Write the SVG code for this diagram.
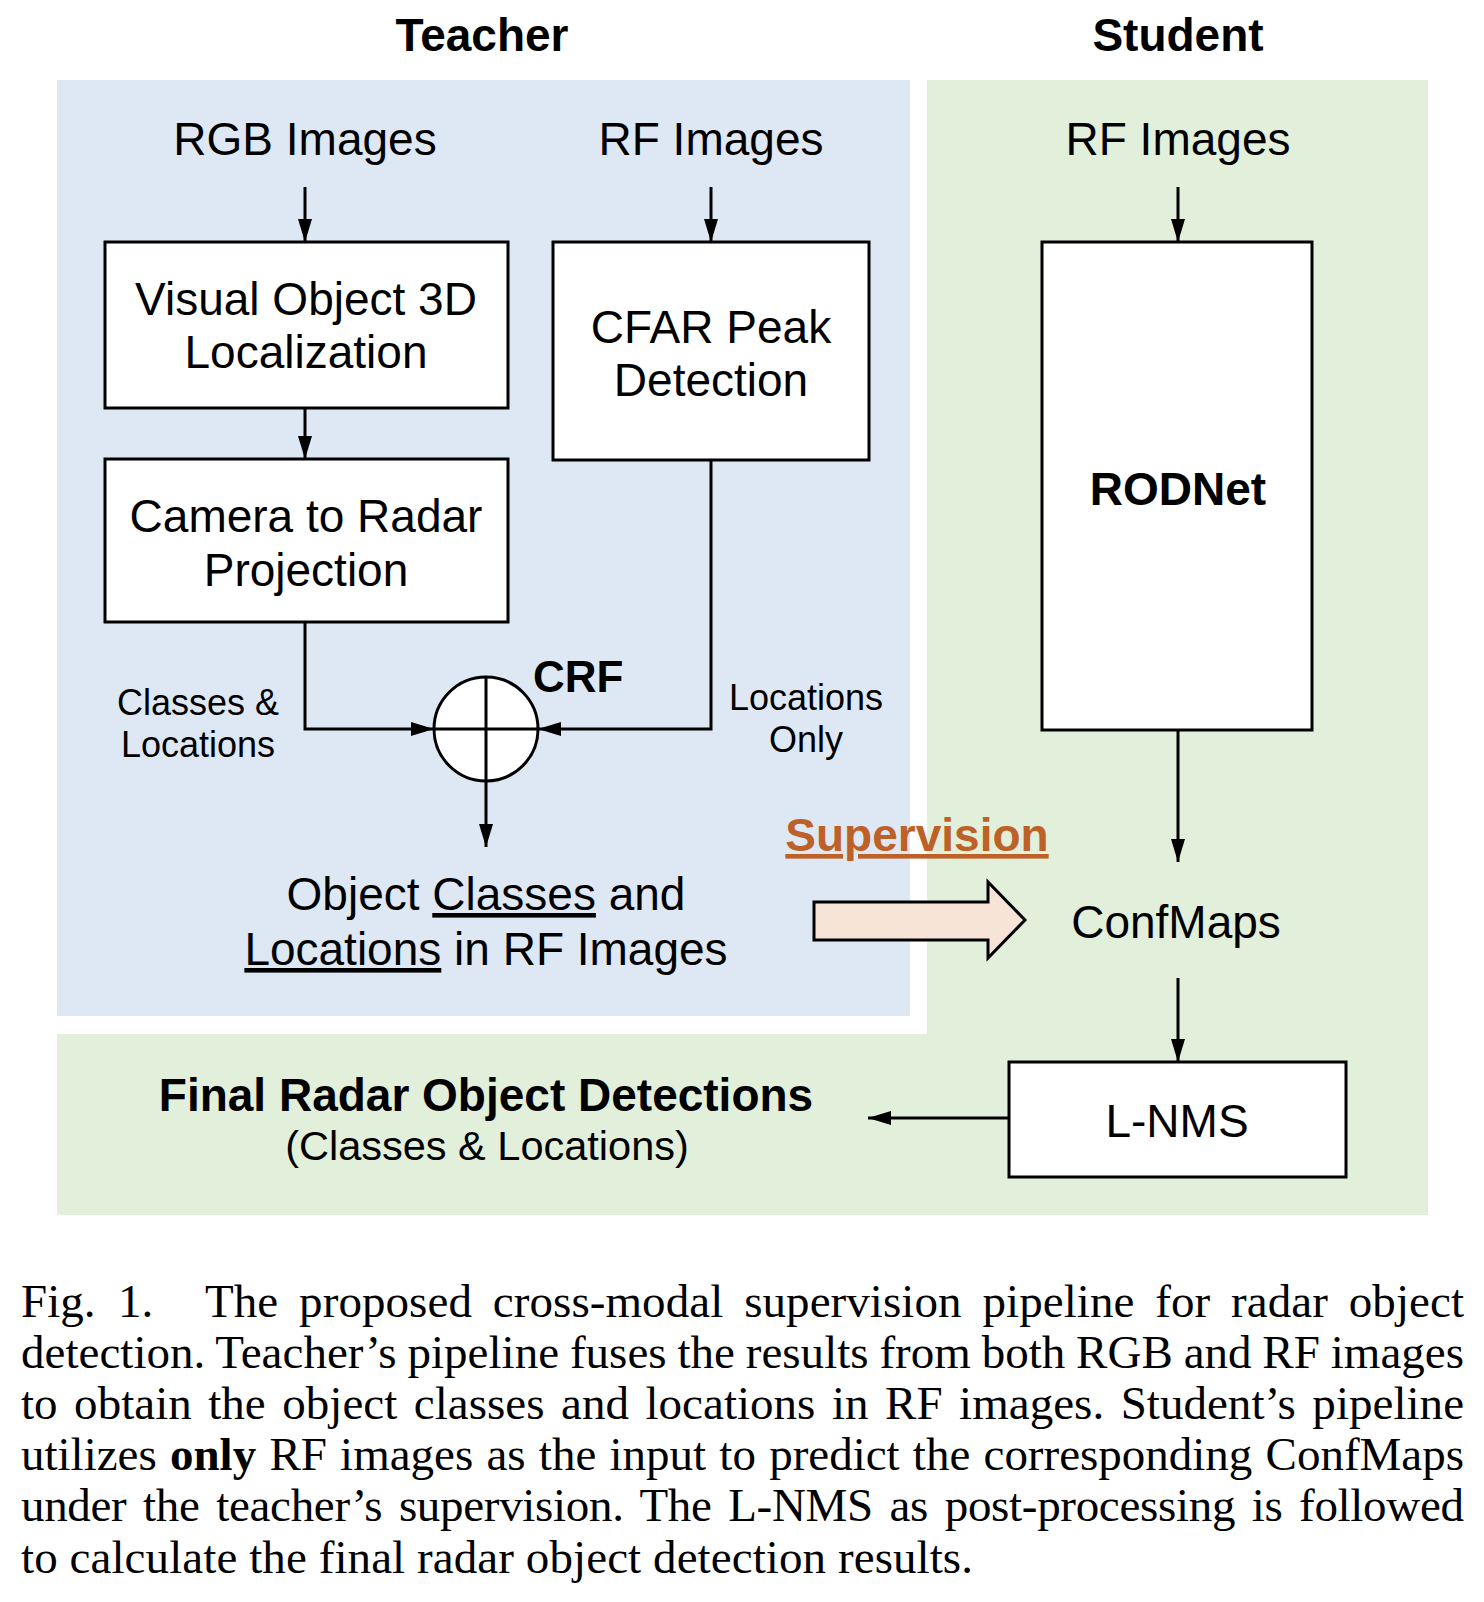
<svg xmlns="http://www.w3.org/2000/svg" width="1484" height="1602" viewBox="0 0 1484 1602">
<style>
.s{font-family:"Liberation Sans",Arial,Helvetica,sans-serif;fill:#000}
.t{font-size:46px}
.b{font-weight:bold}
.lbl{font-size:36px}
.box{fill:#fff;stroke:#000;stroke-width:3}
.ln{fill:none;stroke:#000;stroke-width:3}
.cap{font-family:"Liberation Serif","Times New Roman",serif;font-size:47px;fill:#000}
</style>
<defs>
<marker id="ah" markerUnits="userSpaceOnUse" markerWidth="23" markerHeight="14" viewBox="0 0 23 14" refX="23" refY="7" orient="auto">
<path d="M0,0 L23,7 L0,14 Z" fill="#000"/>
</marker>
</defs>
<rect width="1484" height="1602" fill="#fff"/>
<g id="panels">
<rect x="57" y="80" width="853" height="936" fill="#DEE8F5"/>
<path d="M927,80 H1428 V1215 H57 V1034 H927 Z" fill="#E2EFDA"/>
</g>
<g id="titles">
<text class="s b" x="482" y="51" font-size="46" text-anchor="middle">Teacher</text>
<text class="s b" x="1178" y="51" font-size="46" text-anchor="middle">Student</text>
</g>
<g id="rgb-images"><text class="s t" x="305" y="155" text-anchor="middle">RGB Images</text></g>
<g id="rf-images-teacher"><text class="s t" x="711" y="155" text-anchor="middle">RF Images</text></g>
<g id="rf-images-student"><text class="s t" x="1178" y="155" text-anchor="middle">RF Images</text></g>
<g id="visual-3d">
<rect class="box" x="105" y="242" width="403" height="166"/>
<text class="s t" x="306" y="315" text-anchor="middle">Visual Object 3D</text>
<text class="s t" x="306" y="368" text-anchor="middle">Localization</text>
</g>
<g id="camera-radar">
<rect class="box" x="105" y="459" width="403" height="163"/>
<text class="s t" x="306" y="532" text-anchor="middle">Camera to Radar</text>
<text class="s t" x="306" y="586" text-anchor="middle">Projection</text>
</g>
<g id="cfar">
<rect class="box" x="553" y="242" width="316" height="218"/>
<text class="s t" x="711" y="343" text-anchor="middle">CFAR Peak</text>
<text class="s t" x="711" y="396" text-anchor="middle">Detection</text>
</g>
<g id="crf">
<circle cx="486" cy="729" r="52" fill="#fff" stroke="#000" stroke-width="3"/>
<path class="ln" d="M434,729 H538 M486,677 V781"/>
<text class="s b" x="533" y="692" font-size="44">CRF</text>
</g>
<g id="label-classes-locations">
<text class="s lbl" x="198" y="715" text-anchor="middle">Classes &amp;</text>
<text class="s lbl" x="198" y="757" text-anchor="middle">Locations</text>
</g>
<g id="label-locations-only">
<text class="s lbl" x="806" y="710" text-anchor="middle">Locations</text>
<text class="s lbl" x="806" y="752" text-anchor="middle">Only</text>
</g>
<g id="object-classes">
<text class="s t" x="486" y="910" text-anchor="middle">Object <tspan text-decoration="underline">Classes</tspan> and</text>
<text class="s t" x="486" y="965" text-anchor="middle"><tspan text-decoration="underline">Locations</tspan> in RF Images</text>
</g>
<g id="rodnet">
<rect class="box" x="1042" y="242" width="270" height="488"/>
<text class="s t b" x="1178" y="505" text-anchor="middle">RODNet</text>
</g>
<g id="supervision">
<text class="s b" x="917" y="851" font-size="46" text-anchor="middle" style="fill:#BD6128" text-decoration="underline">Supervision</text>
<polygon points="814,902 988,902 988,882 1025,920 988,958 988,940 814,940" fill="#F8E4D7" stroke="#000" stroke-width="3"/>
</g>
<g id="confmaps"><text class="s t" x="1176" y="938" text-anchor="middle">ConfMaps</text></g>
<g id="lnms">
<rect class="box" x="1009" y="1062" width="337" height="115"/>
<text class="s t" x="1177" y="1137" text-anchor="middle">L-NMS</text>
</g>
<g id="final">
<text class="s t b" x="486" y="1111" text-anchor="middle">Final Radar Object Detections</text>
<text class="s" x="487" y="1160" font-size="41.5" text-anchor="middle">(Classes &amp; Locations)</text>
</g>
<g id="connectors">
<path class="ln" d="M305,187 V242" marker-end="url(#ah)"/>
<path class="ln" d="M711,187 V242" marker-end="url(#ah)"/>
<path class="ln" d="M305,408 V459" marker-end="url(#ah)"/>
<path class="ln" d="M305,622 V729 H434" marker-end="url(#ah)"/>
<path class="ln" d="M711,460 V729 H538" marker-end="url(#ah)"/>
<path class="ln" d="M486,781 V847" marker-end="url(#ah)"/>
<path class="ln" d="M1178,187 V242" marker-end="url(#ah)"/>
<path class="ln" d="M1178,730 V862" marker-end="url(#ah)"/>
<path class="ln" d="M1178,978 V1062" marker-end="url(#ah)"/>
<path class="ln" d="M1009,1118 H868" marker-end="url(#ah)"/>
</g>
<g id="caption">
<text class="cap" x="21" y="1317">Fig.</text>
<text class="cap" x="118" y="1317">1.</text>
<text class="cap" x="205" y="1317" word-spacing="9" textLength="1259" lengthAdjust="spacing">The proposed cross-modal supervision pipeline for radar object</text>
<text class="cap" x="21" y="1368" word-spacing="-1" textLength="1443" lengthAdjust="spacing">detection. Teacher’s pipeline fuses the results from both RGB and RF images</text>
<text class="cap" x="21" y="1419" word-spacing="4.7" textLength="1443" lengthAdjust="spacing">to obtain the object classes and locations in RF images. Student’s pipeline</text>
<text class="cap" x="21" y="1470" word-spacing="1.5" textLength="1443" lengthAdjust="spacing">utilizes <tspan font-weight="bold">only</tspan> RF images as the input to predict the corresponding ConfMaps</text>
<text class="cap" x="21" y="1521" word-spacing="5.2" textLength="1443" lengthAdjust="spacing">under the teacher’s supervision. The L-NMS as post-processing is followed</text>
<text class="cap" x="21" y="1573" textLength="952" lengthAdjust="spacing">to calculate the final radar object detection results.</text>
</g>
</svg>
